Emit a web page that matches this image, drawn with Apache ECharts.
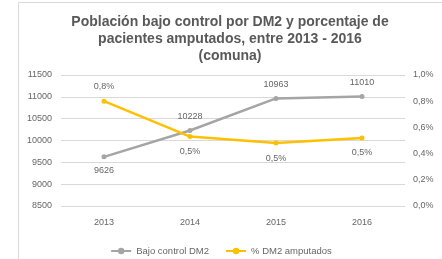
<!DOCTYPE html>
<html lang="es">
<head>
<meta charset="UTF-8">
<title>DM2</title>
<style>
    * { margin: 0; padding: 0; }
    body { background: #fff; }
    #chart { width: 442px; height: 259px; }
</style>
</head>
<body>
<div id="chart"></div>
<script src="https://cdn.jsdelivr.net/npm/echarts@6/dist/echarts.min.js"></script>
<script>
    var years = ['2013', '2014', '2015', '2016'];
    var bajoControl = [9626, 10228, 10963, 11010];
    var amputados = [0.80, 0.53, 0.48, 0.52];
    var amputadosLabels = ['0,8%', '0,5%', '0,5%', '0,5%'];
    var leftTicks = [8500, 11500, 500];
    var rightTicks = [0, 1.0, 0.2];

    var font = 'Liberation Sans';
    var txt = '#666666';

    var myChart = echarts.init(document.getElementById('chart'));

    // first point of each series has its label on the other side
    var grayData = bajoControl.map(function (v, i) {
        return i === 0 ? { value: v, label: { position: 'bottom' } } : v;
    });
    var yellowData = amputados.map(function (v, i) {
        return i === 0 ? { value: v, label: { position: 'top' } } : v;
    });

    var option = {
        animation: false,
        textStyle: { fontFamily: font },
        graphic: [{
            type: 'rect',
            shape: { x: 18.5, y: 2.5, width: 430, height: 262 },
            style: { fill: 'none', stroke: '#d9d9d9', lineWidth: 1 }
        }],
        title: {
            text: 'Población bajo control por DM2 y porcentaje de\npacientes amputados, entre 2013 - 2016\n(comuna)',
            left: 225,
            top: 9,
            textAlign: 'center',
            textStyle: {
                fontFamily: font,
                fontSize: 14,
                fontWeight: 'bold',
                color: '#595959',
                lineHeight: 17
            }
        },
        legend: {
            bottom: -2,
            left: 'center',
            itemWidth: 20,
            itemHeight: 8,
            itemGap: 16,
            textStyle: { fontFamily: font, fontSize: 9.5, color: txt },
            data: ['Bajo control DM2', '% DM2 amputados']
        },
        grid: {
            left: 61,
            right: 37,
            top: 75,
            bottom: 53,
            containLabel: false
        },
        xAxis: {
            type: 'category',
            data: years,
            boundaryGap: true,
            axisLine: { show: false },
            axisTick: { show: false },
            axisLabel: { color: txt, fontSize: 9, margin: 12 }
        },
        yAxis: [{
            type: 'value',
            min: leftTicks[0],
            max: leftTicks[1],
            interval: leftTicks[2],
            axisLine: { show: false },
            axisTick: { show: false },
            axisLabel: {
                color: txt,
                fontSize: 9,
                margin: 9,
                formatter: function (v) { return String(v); }
            },
            splitLine: { lineStyle: { color: '#d9d9d9' } }
        }, {
            type: 'value',
            min: rightTicks[0],
            max: rightTicks[1],
            interval: rightTicks[2],
            axisLine: { show: false },
            axisTick: { show: false },
            splitLine: { show: false },
            axisLabel: {
                color: txt,
                fontSize: 9,
                margin: 8,
                formatter: function (v) {
                    return v.toFixed(1).replace('.', ',') + '%';
                }
            }
        }],
        series: [{
            name: 'Bajo control DM2',
            type: 'line',
            yAxisIndex: 0,
            data: grayData,
            symbol: 'circle',
            symbolSize: 5,
            lineStyle: { color: '#a5a5a5', width: 2.5 },
            itemStyle: { color: '#a5a5a5' },
            label: {
                show: true,
                position: 'top',
                distance: 7,
                color: txt,
                fontSize: 9
            }
        }, {
            name: '% DM2 amputados',
            type: 'line',
            yAxisIndex: 1,
            data: yellowData,
            symbol: 'circle',
            symbolSize: 5,
            lineStyle: { color: '#ffc000', width: 2.5 },
            itemStyle: { color: '#ffc000' },
            label: {
                show: true,
                position: 'bottom',
                distance: 8,
                color: txt,
                fontSize: 9,
                formatter: function (p) {
                    return amputadosLabels[p.dataIndex];
                }
            }
        }]
    };

    myChart.setOption(option);
</script>
</body>
</html>
